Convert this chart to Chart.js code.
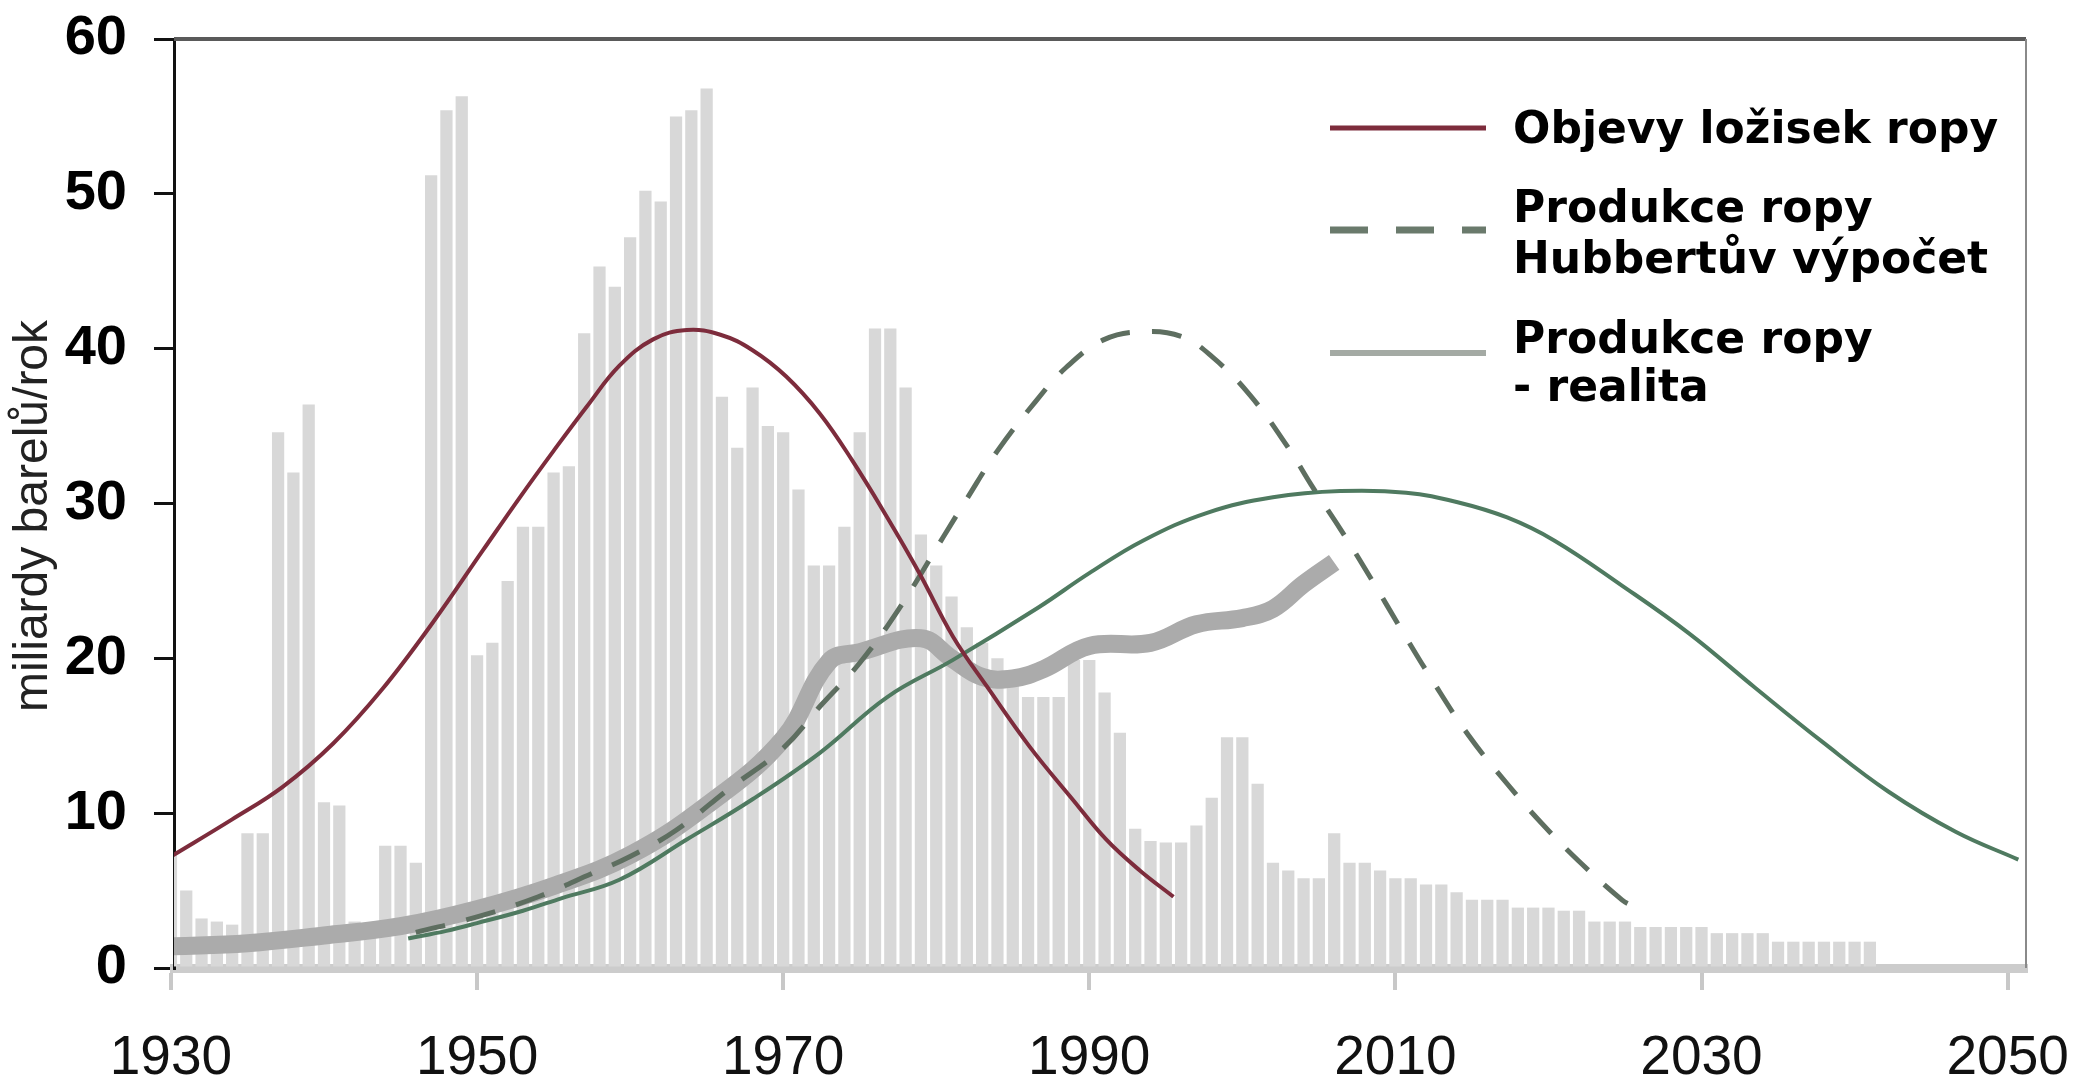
<!DOCTYPE html>
<html>
<head>
<meta charset="utf-8">
<script src="https://cdn.jsdelivr.net/npm/chart.js@4/dist/chart.umd.min.js"></script>
<style>
  html, body { margin: 0; padding: 0; background: #fff; }
  canvas { display: block; }
</style>
</head>
<body>
<canvas id="chart" width="2076" height="1086"></canvas>
<script>
// DATA
let barYears = [];
for (let y = 1930; y <= 2050; y++) barYears.push(y);

// discoveries per year (grey bars)
let barVals = [
    7.3, 5.0, 3.2, 3.0, 2.8, 8.7, 8.7, 34.6, 32.0, 36.4,
    10.7, 10.5, 3.0, 2.8, 7.9, 7.9, 6.8, 51.2, 55.4, 56.3,
    20.2, 21.0, 25.0, 28.5, 28.5, 32.0, 32.4, 41.0, 45.3, 44.0,
    47.2, 50.2, 49.5, 55.0, 55.4, 56.8, 36.9, 33.6, 37.5, 35.0,
    34.6, 30.9, 26.0, 26.0, 28.5, 34.6, 41.3, 41.3, 37.5, 28.0,
    26.0, 24.0, 22.0, 21.0, 20.0, 18.5, 17.5, 17.5, 17.5, 19.9,
    19.9, 17.8, 15.2, 9.0, 8.2, 8.1, 8.1, 9.2, 11.0, 14.9,
    14.9, 11.9, 6.8, 6.3, 5.8, 5.8, 8.7, 6.8, 6.8, 6.3,
    5.8, 5.8, 5.4, 5.4, 4.9, 4.4, 4.4, 4.4, 3.9, 3.9,
    3.9, 3.7, 3.7, 3.0, 3.0, 3.0, 2.65, 2.65, 2.65, 2.65,
    2.65, 2.25, 2.25, 2.25, 2.25, 1.7, 1.7, 1.7, 1.7, 1.7,
    1.7, 1.7, 0, 0, 0, 0, 0, 0, 0, 0,
    0
];

// actual production (thick grey line)
let prodYears = [1930, 1935, 1940, 1945, 1950, 1955, 1960, 1965, 1970, 1973,
    1975, 1979, 1981, 1983, 1985, 1987, 1990, 1994, 1997, 2000, 2002, 2004, 2006];
let prodVals = [1.4, 1.6, 2.1, 2.7, 3.8, 5.3, 7.3, 10.5, 14.8, 19.8,
    20.4, 21.3, 20.0, 18.8, 18.7, 19.3, 20.8, 21.0, 22.2, 22.6, 23.2, 24.8, 26.2];

// Hubbert calculation (dashed)
let hubYears = [1946, 1950, 1954, 1957.5, 1960, 1963, 1966.5, 1970, 1972.5, 1975,
    1977.5, 1980.5, 1982, 1984, 1986.5, 1988.5, 1991, 1993.5, 1996, 1998,
    2000.5, 2003, 2004.5, 2006.5, 2008.5, 2010.3, 2012.4, 2014.8, 2017.3, 2019.6,
    2022.2, 2024.8, 2025.5];
let hubVals = [2.3, 3.3, 4.6, 6.1, 7.2, 8.9, 11.6, 14.2, 17.0, 19.7,
    23.1, 27.9, 30.3, 33.4, 36.6, 38.8, 40.6, 41.1, 40.8, 39.5,
    37.0, 33.6, 31.2, 28.2, 25.0, 22.0, 18.6, 15.0, 11.9, 9.3,
    6.7, 4.4, 4.0];

// production - reality (green)
let realYears = [1945.5, 1948, 1950, 1953, 1955.5, 1959.3, 1963.7, 1968, 1972.4, 1976.8,
    1981.1, 1986.7, 1990, 1993.5, 1997.7, 2002, 2006.4, 2010.7, 2014, 2017.3,
    2020.4, 2024.8, 2029.2, 2033.5, 2037.9, 2042.2, 2046.6, 2050.7];
let realVals = [1.9, 2.4, 2.9, 3.7, 4.5, 5.7, 8.3, 10.9, 13.9, 17.5,
    19.9, 23.3, 25.5, 27.6, 29.4, 30.4, 30.8, 30.7, 30.1, 29.1,
    27.6, 24.7, 21.6, 18.1, 14.6, 11.4, 8.8, 7.0];

// discoveries (red curve)
let discYears = [1930, 1934, 1937.3, 1940.6, 1943.8, 1947.1, 1950.4, 1952.8, 1955, 1957.2,
    1959.3, 1961.5, 1963.7, 1965.9, 1968, 1970.2, 1972.4, 1974.5, 1976.8, 1978.9,
    1981.1, 1983.3, 1986.1, 1988.9, 1991.1, 1993.3, 1995.5];
let discVals = [7.2, 9.6, 11.7, 14.5, 18.0, 22.3, 27.0, 30.4, 33.4, 36.3,
    38.9, 40.6, 41.2, 40.9, 39.9, 38.2, 35.8, 32.8, 29.1, 25.5,
    21.4, 18.2, 14.3, 10.9, 8.3, 6.3, 4.6];

let xTicks = [1930, 1950, 1970, 1990, 2010, 2030, 2050];
let yTicks = [0, 10, 20, 30, 40, 50, 60];
let yTitle = "miliardy barelů/rok";

let legendItems = [
    { lines: ["Objevy ložisek ropy"], color: "#7d2c3c", dash: [], width: 5 },
    { lines: ["Produkce ropy", "Hubbertův výpočet"], color: "#6a7a6c", dash: [38, 28], width: 7 },
    { lines: ["Produkce ropy", "- realita"], color: "#a4aaa4", dash: [], width: 6 }
];

function pts(xs, ys) {
    return xs.map((x, i) => ({ x: x, y: ys[i] }));
}

// FRAME, AXIS TITLE, LEGEND
const framePlugin = {
    id: "frame",
    afterDraw(chart) {
        const c = chart.ctx;
        const a = chart.chartArea;
        c.save();
        c.strokeStyle = "#5a5a5a";
        c.lineWidth = 4;
        c.beginPath();
        c.moveTo(a.left, a.top);
        c.lineTo(a.right, a.top);
        c.stroke();
        c.strokeStyle = "#8a8a8a";
        c.lineWidth = 2;
        c.beginPath();
        c.moveTo(a.right, a.top);
        c.lineTo(a.right, a.bottom);
        c.stroke();

        // y title
        c.save();
        c.translate(34, 516);
        c.rotate(-Math.PI / 2);
        c.font = "48px 'Liberation Sans'";
        c.fillStyle = "#222";
        c.textAlign = "center";
        c.textBaseline = "middle";
        c.fillText(yTitle, 0, 0);
        c.restore();

        // legend
        let baselines = [[143], [222, 273], [353, 401]];
        let lineY = [128, 230, 353];
        c.font = "bold 44px 'DejaVu Sans'";
        c.fillStyle = "#000";
        c.textBaseline = "alphabetic";
        legendItems.forEach((it, i) => {
            c.strokeStyle = it.color;
            c.lineWidth = it.width;
            c.setLineDash(it.dash);
            c.beginPath();
            c.moveTo(1330, lineY[i]);
            c.lineTo(1486, lineY[i]);
            c.stroke();
            c.setLineDash([]);
            it.lines.forEach((t, j) => c.fillText(t, 1513, baselines[i][j]));
        });
        c.restore();
    }
};

const lineBase = { type: "line", pointRadius: 0, tension: 0.4, fill: false };

new Chart(document.getElementById("chart"), {
    type: "bar",
    data: {
        datasets: [
            Object.assign({}, lineBase, {
                data: pts(discYears, discVals),
                borderColor: "#7d2c3c",
                borderWidth: 4,
                order: 1
            }),
            Object.assign({}, lineBase, {
                data: pts(realYears, realVals),
                borderColor: "#4f7a60",
                borderWidth: 4,
                order: 2
            }),
            Object.assign({}, lineBase, {
                data: pts(hubYears, hubVals),
                borderColor: "#5e6e60",
                borderWidth: 5,
                borderDash: [30, 22],
                order: 3
            }),
            Object.assign({}, lineBase, {
                data: pts(prodYears, prodVals),
                borderColor: "#ababab",
                borderWidth: 18,
                borderCapStyle: "butt",
                order: 4
            }),
            {
                type: "bar",
                data: pts(barYears, barVals),
                backgroundColor: "#d8d8d8",
                barPercentage: 0.8,
                categoryPercentage: 1,
                grouped: false,
                order: 5
            }
        ]
    },
    options: {
        responsive: false,
        animation: false,
        devicePixelRatio: 1,
        layout: { padding: { top: 39, right: 50, left: 0, bottom: 0 } },
        plugins: {
            legend: { display: false },
            tooltip: { enabled: false }
        },
        scales: {
            x: {
                type: "linear",
                min: 1930.2,
                max: 2051.2,
                offset: false,
                afterBuildTicks: s => { s.ticks = xTicks.map(v => ({ value: v })); },
                afterFit: s => {
                    s.height = 118;
                    s.paddingLeft = 0;
                    s.paddingRight = 0;
                },
                grid: { drawOnChartArea: false, offset: false, tickLength: 22, color: "#c8c8c8", lineWidth: 4 },
                border: { color: "#cccccc", width: 9 },
                ticks: {
                    font: { family: "'Liberation Sans'", size: 55 },
                    color: "#111",
                    padding: 36,
                    maxRotation: 0,
                    autoSkip: false,
                    callback: v => String(v)
                }
            },
            y: {
                min: 0,
                max: 60,
                afterBuildTicks: s => { s.ticks = yTicks.map(v => ({ value: v })); },
                afterFit: s => {
                    s.width = 174;
                    s.paddingTop = 0;
                    s.paddingBottom = 0;
                },
                grid: { drawOnChartArea: false, tickLength: 20, color: "#111", lineWidth: 3 },
                border: { color: "#111", width: 3 },
                ticks: {
                    font: { family: "'Liberation Sans'", weight: "bold", size: 56 },
                    color: "#000",
                    padding: 27
                }
            }
        }
    },
    plugins: [framePlugin]
});
</script>
</body>
</html>
